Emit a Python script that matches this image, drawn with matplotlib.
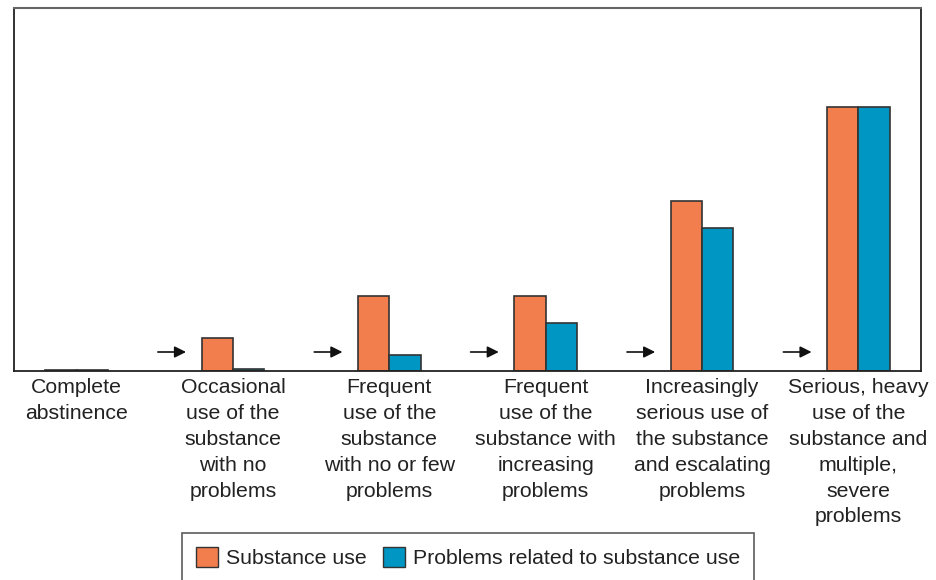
import numpy as np
import matplotlib.pyplot as plt
from matplotlib.patches import Patch

plt.rcParams['font.family'] = ['Liberation Sans', 'DejaVu Sans']

stages = [
    "Complete\nabstinence",
    "Occasional\nuse of the\nsubstance\nwith no\nproblems",
    "Frequent\nuse of the\nsubstance\nwith no or few\nproblems",
    "Frequent\nuse of the\nsubstance with\nincreasing\nproblems",
    "Increasingly\nserious use of\nthe substance\nand escalating\nproblems",
    "Serious, heavy\nuse of the\nsubstance and\nmultiple,\nsevere\nproblems",
]
substance_use = [1.5, 33, 75, 75, 170, 264]
problems = [1.5, 2, 16, 48, 143, 264]

orange = '#F27D4D'
blue = '#0096C4'
edge = '#333333'
text_col = '#222222'

fig = plt.figure(figsize=(9.37, 5.80), dpi=100)
ax = fig.add_axes([14 / 937, 1 - 371 / 580, (921 - 14) / 937, (371 - 8) / 580])

x = np.arange(len(stages))
w = 0.2
ax.bar(x - w / 2, substance_use, w, color=orange, edgecolor=edge, linewidth=1.2)
ax.bar(x + w / 2, problems, w, color=blue, edgecolor=edge, linewidth=1.2)

# arrows leading into each stage
for i in x[1:]:
    ax.annotate('', xy=(i - 0.30, 19), xytext=(i - 0.48, 19),
                arrowprops=dict(arrowstyle='-|>', color='#111111', lw=1.2,
                                mutation_scale=17, shrinkA=0, shrinkB=0))

ax.set_xlim(-0.4, 5.4)
ax.set_ylim(0, 363)
ax.set_yticks([])
ax.set_xticks(x)
ax.set_xticklabels(stages, fontsize=15.3, color=text_col, linespacing=1.46)
ax.tick_params(axis='x', length=0, pad=5)

ax.spines['top'].set_color('#666666')
ax.spines['top'].set_linewidth(1.5)
for s in ['left', 'right', 'bottom']:
    ax.spines[s].set_color('#222222')
    ax.spines[s].set_linewidth(1.3)

handles = [Patch(facecolor=orange, edgecolor=edge, label='Substance use'),
           Patch(facecolor=blue, edgecolor=edge, label='Problems related to substance use')]
leg = fig.legend(handles=handles, loc='upper left', bbox_to_anchor=(182 / 937, 1 - 533 / 580),
                 ncol=2, fontsize=15.3, frameon=True, fancybox=False, edgecolor='#333333',
                 handlelength=1.05, handleheight=1.1, handletextpad=0.35, columnspacing=0.78,
                 borderpad=0.65, borderaxespad=0)
leg.get_frame().set_linewidth(1.2)
for t in leg.get_texts():
    t.set_color(text_col)

fig.savefig('out.png', dpi=100)
